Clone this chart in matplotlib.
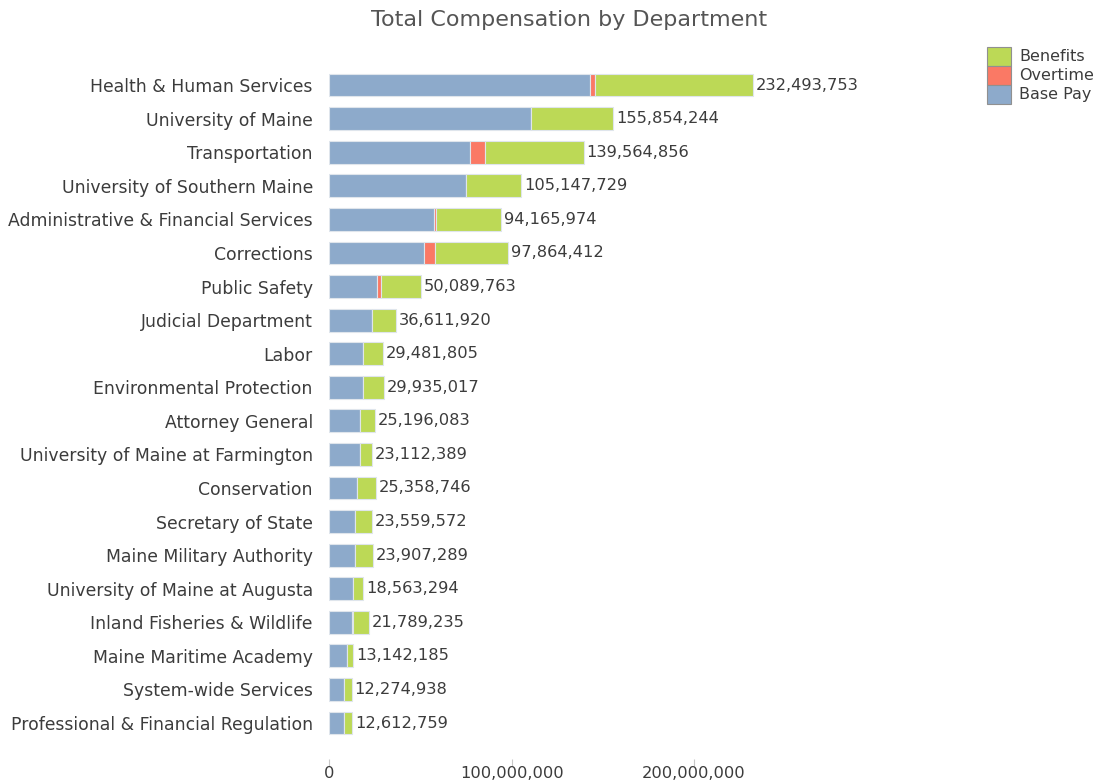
import matplotlib.pyplot as plt
from matplotlib.patches import Patch

# departments, top to bottom as in the chart
departments = [
    "Health & Human Services", "University of Maine", "Transportation",
    "University of Southern Maine", "Administrative & Financial Services",
    "Corrections", "Public Safety", "Judicial Department", "Labor",
    "Environmental Protection", "Attorney General",
    "University of Maine at Farmington", "Conservation", "Secretary of State",
    "Maine Military Authority", "University of Maine at Augusta",
    "Inland Fisheries & Wildlife", "Maine Maritime Academy",
    "System-wide Services", "Professional & Financial Regulation",
]

totals = [232493753, 155854244, 139564856, 105147729, 94165974,
          97864412, 50089763, 36611920, 29481805, 29935017,
          25196083, 23112389, 25358746, 23559572, 23907289,
          18563294, 21789235, 13142185, 12274938, 12612759]

# millions
base_pay = [143.1, 110.7, 77.2, 74.8, 57.6, 52.1, 25.9, 23.2, 18.2, 18.2,
            16.8, 16.8, 14.9, 14.0, 14.0, 13.1, 12.5, 9.8, 8.1, 8.1]
overtime = [2.7, 0.0, 8.2, 0.0, 0.6, 5.8, 2.5, 0.0, 0.1, 0.0,
            0.0, 0.0, 0.1, 0.0, 0.0, 0.0, 0.2, 0.0, 0.0, 0.0]

x_ticks = [0, 100e6, 200e6]
x_tick_labels = ["0", "100,000,000", "200,000,000"]

base_pay = [b * 1e6 for b in base_pay]
overtime = [o * 1e6 for o in overtime]
benefits = [t - b - o for t, b, o in zip(totals, base_pay, overtime)]

c_base = "#8DAACB"
c_ot = "#FA7965"
c_ben = "#BCD956"
text_col = "#3c3c3c"

fig = plt.figure(figsize=(11.02, 7.8), dpi=100)
ax = fig.add_axes([0.299, 0.0515, 0.572, 0.861])
for s in ax.spines.values():
    s.set_visible(False)
ax.spines["bottom"].set_position(("outward", 14))

y = list(range(len(departments)))
h = 0.68
edge = dict(edgecolor="#dfe5ec", linewidth=0.8)
ax.barh(y, base_pay, height=h, color=c_base, **edge)
ax.barh(y, overtime, left=base_pay, height=h, color=c_ot, **edge)
left2 = [b + o for b, o in zip(base_pay, overtime)]
ax.barh(y, benefits, left=left2, height=h, color=c_ben, **edge)

for yi, t in zip(y, totals):
    ax.text(t + 1.5e6, yi, f"{t:,}", va="center", ha="left",
            fontsize=11.7, color=text_col)

ax.set_ylim(len(departments) - 0.5, -0.5)
ax.set_xlim(0, 346e6)
ax.set_yticks(y)
ax.set_yticklabels(departments, fontsize=12.4, color=text_col)
ax.tick_params(axis="y", length=0, pad=12)

ax.set_xticks(x_ticks)
ax.set_xticklabels(x_tick_labels, fontsize=11.7, color=text_col)
ax.tick_params(axis="x", length=5, color="#c8c8c8", pad=0)

fig.text(0.516, 0.975, "Total Compensation by Department", ha="center",
         va="center", fontsize=16, color="#555555")

handles = [Patch(facecolor=c_ben, edgecolor="#909090", linewidth=0.8),
           Patch(facecolor=c_ot, edgecolor="#909090", linewidth=0.8),
           Patch(facecolor=c_base, edgecolor="#909090", linewidth=0.8)]
fig.legend(handles, ["Benefits", "Overtime", "Base Pay"], loc="upper left",
           bbox_to_anchor=(987 / 1102, 1 - 46.7 / 780), frameon=False,
           fontsize=11.5, handlelength=1.5, handleheight=1.45, labelspacing=0,
           handletextpad=0.5, borderpad=0, borderaxespad=0,
           labelcolor=text_col)

fig.savefig("out.png", dpi=100)
